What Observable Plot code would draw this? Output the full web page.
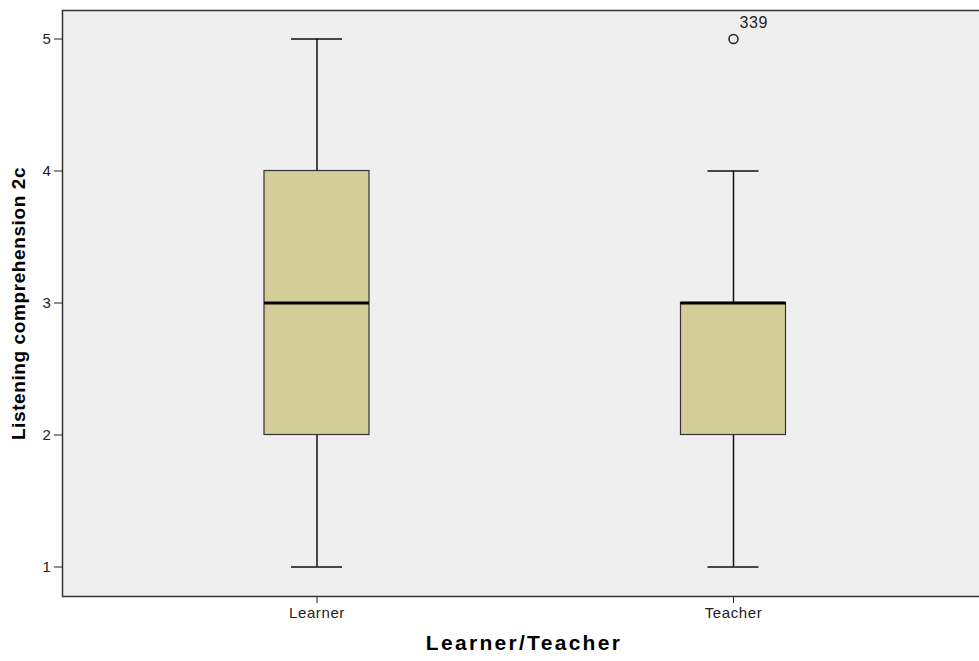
<!DOCTYPE html>
<html><head><meta charset="utf-8">
<script src="https://cdn.jsdelivr.net/npm/d3@7"></script>
<script src="https://cdn.jsdelivr.net/npm/@observablehq/plot@0.6"></script>
<style>
body{margin:0;background:#fff;overflow:hidden}
#c{width:979px;height:661px;overflow:hidden}
#c svg{max-width:none !important;height:661px !important}
</style>
</head><body><div id="c"></div>
<script>
const groups = ["Learner", "Teacher"];
const whiskerLow = [1, 1];
const q1 = [2, 2];
const median = [3, 3];
const q3 = [4, 3];
const whiskerHigh = [5, 4];
const outlierGroup = ["Teacher"];
const outlierValue = [5];
const outlierCase = ["339"];
const yTicks = [1, 2, 3, 4, 5];
const xTitle = "Learner/Teacher";
const yTitle = "Listening comprehension 2c";

const boxes = groups.map((g, i) => ({group: g, lo: whiskerLow[i], q1: q1[i], med: median[i], q3: q3[i], hi: whiskerHigh[i]}));
const outliers = outlierGroup.map((g, i) => ({group: g, value: outlierValue[i], label: outlierCase[i]}));

const chart = Plot.plot({
  width: 985,
  height: 661,
  marginLeft: 62,
  marginRight: 0,
  marginTop: 10,
  marginBottom: 65,
  style: {fontFamily: "'Liberation Sans', Arial, sans-serif", fontSize: "15px", color: "#222", background: "#fff", letterSpacing: "0.6px"},
  x: {type: "band", domain: groups, range: [264, 785.5], paddingInner: 0.7479, paddingOuter: 0, round: false, label: null, tickSize: 7, tickPadding: 4},
  y: {domain: [1, 5], range: [566.5, 38.5], ticks: yTicks, tickSize: 8, tickPadding: 3, label: null, tickFormat: d3.format("d")},
  marks: [
    Plot.frame({fill: "#efefef", stroke: "#333", strokeWidth: 1.5}),
    Plot.ruleX(boxes, {x: "group", y1: "lo", y2: "q1", stroke: "#111", strokeWidth: 1.5}),
    Plot.ruleX(boxes, {x: "group", y1: "q3", y2: "hi", stroke: "#111", strokeWidth: 1.5}),
    Plot.tickY(boxes, {x: "group", y: "lo", insetLeft: 27, insetRight: 27, stroke: "#111", strokeWidth: 1.5}),
    Plot.tickY(boxes, {x: "group", y: "hi", insetLeft: 27, insetRight: 27, stroke: "#111", strokeWidth: 1.5}),
    Plot.barY(boxes, {x: "group", y1: "q1", y2: "q3", fill: "#d3ce97", stroke: "#333", strokeWidth: 1.2}),
    Plot.tickY(boxes, {x: "group", y: "med", stroke: "#000", strokeWidth: 3}),
    Plot.dot(outliers, {x: "group", y: "value", r: 4.5, stroke: "#222", strokeWidth: 1.5, fill: "none"}),
    Plot.text(outliers, {x: "group", y: "value", text: "label", dx: 6, dy: -16, textAnchor: "start", fontSize: 16, fill: "#222"}),
    Plot.text([xTitle], {text: d => d, frameAnchor: "bottom", textAnchor: "middle", dy: 53, fontSize: 21, fontWeight: "bold", fill: "#000"}),
    Plot.text([yTitle], {text: d => d, frameAnchor: "left", textAnchor: "middle", dx: -44, rotate: -90, fontSize: 19, fontWeight: "bold", fill: "#000"})
  ]
});
d3.select(chart).selectAll("text").filter(function() { return this.textContent === xTitle; }).style("letter-spacing", "2.3px");
document.getElementById("c").appendChild(chart);
</script>
</body></html>
